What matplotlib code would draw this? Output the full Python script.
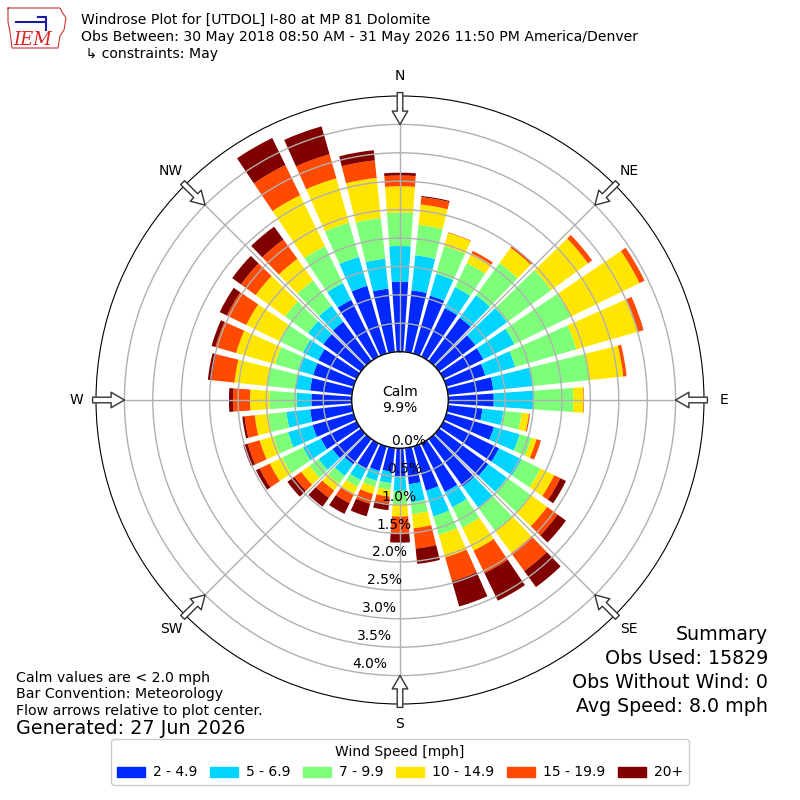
import numpy as np
import matplotlib
matplotlib.use("Agg")
import matplotlib.pyplot as plt
import matplotlib.patches as mpatches

# wind directions (deg, meteorological) and cumulative bar edges in percent
directions = np.arange(0, 360, 10)

edge_2 = [1.23, 1.09, 1.06, 0.95, 0.94, 0.79, 0.78, 0.71, 0.80, 0.80,
          0.61, 0.87, 1.09, 1.07, 1.03, 0.95, 0.81, 0.64, 0.50, 0.42,
          0.45, 0.50, 0.55, 0.62, 0.70, 0.75, 0.74, 0.71, 0.74, 0.74,
          0.75, 0.82, 0.85, 1.11, 1.24, 1.12]
edge_5 = [1.86, 1.71, 1.46, 1.36, 1.43, 1.48, 1.39, 1.26, 1.50, 1.50,
          0.98, 1.34, 1.53, 1.48, 1.49, 1.25, 1.28, 0.96, 0.75, 0.62,
          0.63, 0.72, 0.80, 0.92, 1.05, 1.20, 1.16, 0.97, 1.00, 1.02,
          1.05, 1.15, 1.20, 1.44, 1.77, 1.65]
edge_7 = [2.45, 2.25, 1.97, 1.83, 2.13, 2.44, 2.49, 2.38, 2.50, 2.20,
          1.30, 1.56, 1.90, 1.99, 1.99, 1.65, 1.62, 1.17, 0.98, 0.74,
          0.74, 0.85, 0.97, 1.12, 1.46, 1.47, 1.48, 1.45, 1.51, 1.44,
          1.52, 1.65, 1.75, 2.16, 2.40, 2.37]
edge_10 = [2.91, 2.61, 2.21, 2.02, 2.46, 3.24, 3.84, 3.51, 3.10, 2.38,
           1.43, 1.65, 2.17, 2.35, 2.48, 2.10, 2.03, 1.42, 1.20, 0.86,
           0.87, 1.00, 1.12, 1.30, 1.70, 1.72, 1.72, 1.79, 2.08, 2.15,
           2.16, 2.29, 2.22, 3.16, 3.21, 3.08]
edge_15 = [3.10, 2.74, 2.22, 2.07, 2.50, 3.33, 3.94, 3.61, 3.16, 2.39,
           1.45, 1.73, 2.29, 2.58, 2.87, 2.54, 2.47, 1.78, 1.50, 0.98,
           1.05, 1.17, 1.28, 1.45, 1.90, 1.94, 1.90, 2.09, 2.48, 2.53,
           2.54, 2.61, 2.64, 3.75, 3.65, 3.39]
edge_20 = [3.15, 2.76, 2.22, 2.07, 2.50, 3.33, 3.94, 3.61, 3.16, 2.39,
           1.45, 1.73, 2.40, 2.76, 3.22, 3.08, 2.93, 2.05, 1.66, 1.10,
           1.28, 1.38, 1.47, 1.60, 1.97, 2.02, 1.94, 2.16, 2.55, 2.60,
           2.68, 2.80, 2.92, 4.28, 4.16, 3.57]

speed_labels = ['2 - 4.9', '5 - 6.9', '7 - 9.9', '10 - 14.9', '15 - 19.9', '20+']
speed_colors = ['#0028ff', '#00d4ff', '#7dff7a', '#ffe600', '#ff4a00', '#800000']

r_ticks = np.arange(0, 4.01, 0.5)
compass = ['N', 'NE', 'E', 'SE', 'S', 'SW', 'W', 'NW']

fig = plt.figure(figsize=(8, 8), dpi=100)
ax = fig.add_axes([0.12, 0.12, 0.76, 0.76], projection='polar')
ax.set_theta_zero_location('N')
ax.set_theta_direction(-1)
ax.set_rorigin(-0.85)
ax.set_ylim(0, 4.5)

theta = np.deg2rad(directions)
width = np.deg2rad(8)
edges = [edge_2, edge_5, edge_7, edge_10, edge_15, edge_20]
bottom = np.zeros(len(directions))
for edge, color in zip(edges, speed_colors):
    edge = np.array(edge)
    ax.bar(theta, edge - bottom, width=width, bottom=bottom,
           color=color, linewidth=0, zorder=1)
    bottom = edge

# grid
ax.set_xticks(np.deg2rad(np.arange(0, 360, 45)))
ax.set_xticklabels([])
ax.set_yticks(r_ticks)
ax.set_yticklabels([])
ax.tick_params(length=0)
ax.grid(True, color='#b0b0b0', linewidth=1)
ax.spines['polar'].set_color('black')
ax.spines['inner'].set_color('black')
ax.spines['inner'].set_linewidth(1)

# radial labels
for r in r_ticks:
    ax.text(np.deg2rad(190), r, '%.1f%%' % r, ha='left', va='bottom', fontsize=10)

# compass labels and arrows
for i, name in enumerate(compass):
    th = np.deg2rad(i * 45)
    ax.text(th, 4.85, name, ha='center', va='center', fontsize=10, clip_on=False)
    ax.annotate('', xy=(th, 4.0), xytext=(th, 4.56), annotation_clip=False,
                arrowprops=dict(arrowstyle='simple,head_length=0.6,head_width=0.7,tail_width=0.25',
                                fc='white', ec='#333333', lw=1, shrinkA=0, shrinkB=0,
                                mutation_scale=16))

fig.text(0.5, 0.5, 'Calm\n9.9%', ha='center', va='center', fontsize=10)

# header
fig.text(81/800, 1 - 20/800, 'Windrose Plot for [UTDOL] I-80 at MP 81 Dolomite', fontsize=10.1, va='center')
fig.text(81/800, 1 - 37/800, 'Obs Between: 30 May 2018 08:50 AM - 31 May 2026 11:50 PM America/Denver',
         fontsize=10.1, va='center')
fig.text(81/800, 1 - 54/800, ' \u21b3 constraints: May', fontsize=10.1, va='center')

# logo (simplified)
lax = fig.add_axes([0.0, 1 - 52/800, 70/800, 50/800])
lax.set_xlim(0, 70)
lax.set_ylim(50, 0)
lax.axis('off')
lax.plot([8, 60, 62, 66, 64, 60, 58, 12, 10, 8, 8], [6, 6, 10, 16, 28, 34, 46, 46, 30, 20, 6],
         color='#cc3333', lw=0.8)
lax.plot([16, 44], [20, 20], color='#1a1aa0', lw=1.5)
lax.plot([38, 46, 46], [15, 15, 28], color='#1a1aa0', lw=1.5)
lax.text(33, 38, 'IEM', color='#dd2222', fontsize=13, fontstyle='italic', family='serif',
         ha='center', va='center')

# notes
fig.text(16/800, 1 - 678/800, 'Calm values are < 2.0 mph', fontsize=10.2, va='center')
fig.text(16/800, 1 - 694/800, 'Bar Convention: Meteorology', fontsize=10.2, va='center')
fig.text(16/800, 1 - 711/800, 'Flow arrows relative to plot center.', fontsize=10.2, va='center')
fig.text(16/800, 1 - 729/800, 'Generated: 27 Jun 2026', fontsize=13.8, va='center')

summary = ['Summary', 'Obs Used: 15829', 'Obs Without Wind: 0', 'Avg Speed: 8.0 mph']
for i, line in enumerate(summary):
    fig.text(768/800, 1 - (635 + i * 23.7)/800, line, fontsize=13.7, ha='right', va='center')

handles = [mpatches.Patch(color=c, label=l) for c, l in zip(speed_colors, speed_labels)]
fig.legend(handles=handles, loc='lower center', bbox_to_anchor=(0.5, 0.01), ncol=6,
           title='Wind Speed [mph]', fontsize=10, title_fontsize=10, handlelength=2.0,
           handletextpad=0.6, columnspacing=0.9, framealpha=1)

fig.savefig('out.png', dpi=100, facecolor='white')
